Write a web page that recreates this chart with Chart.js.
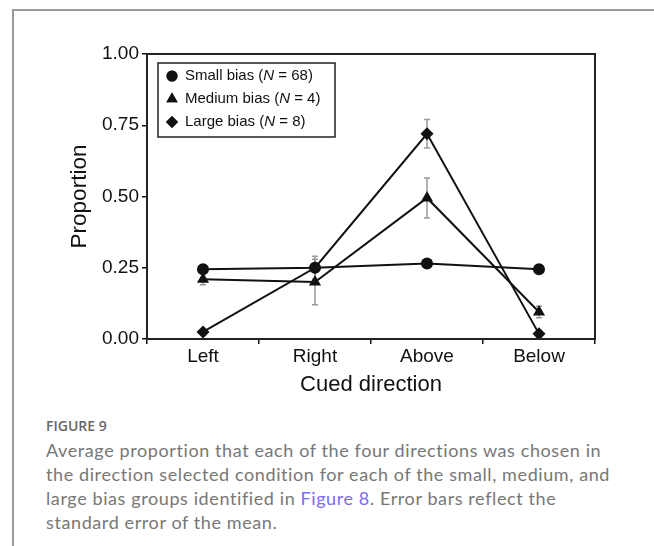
<!DOCTYPE html>
<html>
<head>
<meta charset="utf-8">
<script src="https://cdn.jsdelivr.net/npm/chart.js@4"></script>
<style>
  html, body { margin: 0; padding: 0; background: #fff; }
  body { width: 654px; height: 546px; position: relative; overflow: hidden; }
  .frame { position: absolute; left: 12px; top: 9px; width: 700px; height: 600px;
           border-left: 2px solid #999; border-top: 2px solid #999; }
  .chart-box { position: absolute; left: 0; top: 0; width: 654px; height: 410px; }
  .fig-label { position: absolute; left: 46px; top: 416px; font: 600 14px "Open Sans", sans-serif; color: #666; }
  .caption { position: absolute; left: 46px; top: 438px; font: 18px Lato, sans-serif; letter-spacing: 0.6px;
             line-height: 24px; color: #777; white-space: nowrap; }
  .caption a { color: #7b6cf2; text-decoration: none; }
</style>
</head>
<body>
<div class="frame"></div>
<div class="chart-box"><canvas id="c"></canvas></div>
<div class="fig-label">FIGURE 9</div>
<div class="caption">Average proportion that each of the four directions was chosen in<br>the direction selected condition for each of the small, medium, and<br>large bias groups identified in <a>Figure 8</a>. Error bars reflect the<br>standard error of the mean.</div>

<script>
/* 資料 */
const categories = ['Left', 'Right', 'Above', 'Below'];
const yTicks     = [0, 0.25, 0.5, 0.75, 1];

const smallBias  = [0.245, 0.25, 0.265, 0.245];
const smallErr   = [0.01, 0.01, 0.01, 0.01];
const mediumBias = [0.21, 0.20, 0.495, 0.095];
const mediumErr  = [0.02, 0.08, 0.07, 0.02];
const largeBias  = [0.025, 0.25, 0.72, 0.018];
const largeErr   = [0.01, 0.04, 0.05, 0.01];

const legendItems = [
  { pre: 'Small bias (',  n: 'N', post: ' = 68)', style: 'circle',  r: 5.5 },
  { pre: 'Medium bias (', n: 'N', post: ' = 4)',  style: 'triangle', r: 6.5 },
  { pre: 'Large bias (',  n: 'N', post: ' = 8)',  style: 'rectRot', r: 6 },
];

const FONT = '"Liberation Sans", Arial, sans-serif';
const INK  = '#111';

/* ── 誤差線 ── */
const errorBars = {
  id: 'errorBars',
  beforeDatasetsDraw(chart) {
    const { ctx } = chart;
    const ys = chart.scales.y;
    ctx.save();
    ctx.strokeStyle = '#999';
    ctx.lineWidth = 1.5;
    chart.data.datasets.forEach((ds, i) => {
      const meta = chart.getDatasetMeta(i);
      meta.data.forEach((pt, j) => {
        const e = ds.err[j];
        if (!e) return;
        const v = ds.data[j];
        const yt = ys.getPixelForValue(v + e), yb = ys.getPixelForValue(v - e);
        ctx.beginPath();
        ctx.moveTo(pt.x, yt); ctx.lineTo(pt.x, yb);
        ctx.moveTo(pt.x - 3, yt); ctx.lineTo(pt.x + 3, yt);
        ctx.moveTo(pt.x - 3, yb); ctx.lineTo(pt.x + 3, yb);
        ctx.stroke();
      });
    });
    ctx.restore();
  },
};

/* ── 外框 + 圖例 ── */
const frameLegend = {
  id: 'frameLegend',
  afterDraw(chart) {
    const { ctx, chartArea: a } = chart;
    ctx.save();
    ctx.strokeStyle = '#222';
    ctx.lineWidth = 2;
    ctx.strokeRect(a.left, a.top, a.right - a.left, a.bottom - a.top);

    const bx = a.left + 11, by = a.top + 9;
    ctx.lineWidth = 1.5;
    ctx.strokeRect(bx, by, 177, 74);

    ctx.fillStyle = INK;
    ctx.textBaseline = 'middle';
    legendItems.forEach((it, i) => {
      const y = by + 13 + i * 23;
      Chart.helpers.drawPoint(ctx, { pointStyle: it.style, radius: it.r, borderWidth: 0 }, bx + 14, y);
      ctx.fill();
      let x = bx + 27;
      ctx.font = '15px ' + FONT;
      ctx.fillText(it.pre, x, y); x += ctx.measureText(it.pre).width;
      ctx.font = 'italic 15px ' + FONT;
      ctx.fillText(it.n, x, y);   x += ctx.measureText(it.n).width;
      ctx.font = '15px ' + FONT;
      ctx.fillText(it.post, x, y);
    });
    ctx.restore();
  },
};

function series(label, data, err, style, r) {
  return {
    label, data, err,
    borderColor: INK, backgroundColor: INK, borderWidth: 2,
    pointStyle: style, pointRadius: r, pointHoverRadius: r,
    pointBackgroundColor: INK, pointBorderWidth: 0,
    tension: 0, fill: false,
  };
}

new Chart(document.getElementById('c'), {
  type: 'line',
  data: {
    labels: categories,
    datasets: [
      series('Small bias',  smallBias,  smallErr,  'circle',  6),
      series('Medium bias', mediumBias, mediumErr, 'triangle', 7),
      series('Large bias',  largeBias,  largeErr,  'rectRot', 6.5),
    ],
  },
  options: {
    responsive: true, maintainAspectRatio: false, animation: false,
    layout: { padding: { left: 62, top: 54, right: 59, bottom: 8 } },
    plugins: { legend: { display: false }, tooltip: { enabled: false } },
    scales: {
      x: {
        offset: true,
        grid: { offset: true, drawOnChartArea: false, drawTicks: true, tickLength: 5, color: INK, lineWidth: 1.5 },
        border: { display: false },
        ticks: { color: INK, font: { family: FONT, size: 19 }, padding: 1 },
        title: { display: true, text: 'Cued direction', color: INK, font: { family: FONT, size: 22 }, padding: 4 },
        afterFit: s => { s.height = 63; },
      },
      y: {
        min: 0, max: 1,
        afterBuildTicks: s => { s.ticks = yTicks.map(v => ({ value: v })); },
        grid: { drawOnChartArea: false, drawTicks: true, tickLength: 5, color: INK, lineWidth: 1.5 },
        border: { display: false },
        ticks: { color: INK, font: { family: FONT, size: 19 }, padding: 3, callback: v => v.toFixed(2) },
        title: { display: true, text: 'Proportion', color: INK, font: { family: FONT, size: 22.5 }, padding: 4 },
        afterFit: s => { s.width = 85; },
      },
    },
  },
  plugins: [errorBars, frameLegend],
});
</script>
</body>
</html>
